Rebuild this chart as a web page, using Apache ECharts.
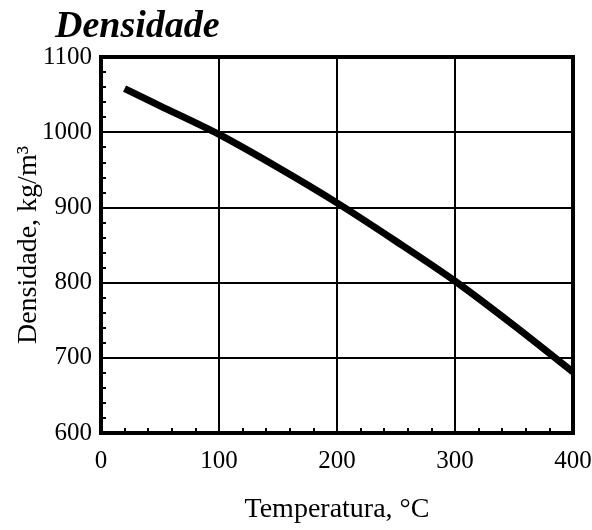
<!DOCTYPE html>
<html><head><meta charset="utf-8">
<script src="https://cdn.jsdelivr.net/npm/echarts@6/dist/echarts.min.js"></script>
<style>html,body{margin:0;padding:0;background:#fff}#c{width:592px;height:530px}</style>
</head><body><div id="c"></div>
<script>
const temperatures = [20, 50, 100, 150, 200, 250, 300, 350, 400];
const densities = [1058, 1035, 997, 953, 906, 855, 802, 743, 681];
const titleText = 'Densidade';
const xName = 'Temperatura, °C';
const yName = 'Densidade, kg/m³';

const font = 'Liberation Serif';
const chart = echarts.init(document.getElementById('c'));
chart.setOption({
  animation: false,
  title: { text: titleText, left: 50, top: 3,
    textStyle: { fontFamily: font, fontSize: 38, fontWeight: 'bold', fontStyle: 'italic', color: '#000' } },
  grid: { left: 101, right: 19, top: 57, bottom: 97, containLabel: false, outerBoundsMode: 'none',
    show: true, borderColor: '#000', borderWidth: 4, backgroundColor: 'transparent' },
  xAxis: {
    type: 'value', min: 0, max: 400, interval: 100,
    name: xName, nameLocation: 'middle', nameGap: 63,
    nameTextStyle: { fontFamily: font, fontSize: 28, color: '#000' },
    axisLine: { show: true, lineStyle: { color: '#000', width: 4 } },
    axisTick: { show: true, inside: true, length: 5, lineStyle: { color: '#000', width: 2 } },
    minorTick: { show: true, splitNumber: 5, length: 5, lineStyle: { color: '#000', width: 2 } },
    axisLabel: { fontFamily: font, fontSize: 25, color: '#000', margin: 16 },
    splitLine: { show: true, lineStyle: { color: '#000', width: 2 } }
  },
  yAxis: {
    type: 'value', min: 600, max: 1100, interval: 100,
    name: yName, nameLocation: 'middle', nameGap: 58, nameMoveOverlap: false,
    nameTextStyle: { fontFamily: font, fontSize: 28, color: '#000' },
    axisLine: { show: true, lineStyle: { color: '#000', width: 4 } },
    axisTick: { show: true, inside: true, length: 5, lineStyle: { color: '#000', width: 2 } },
    minorTick: { show: true, splitNumber: 5, length: 5, lineStyle: { color: '#000', width: 2 } },
    axisLabel: { fontFamily: font, fontSize: 25, color: '#000', margin: 9, formatter: v => String(v) },
    splitLine: { show: true, lineStyle: { color: '#000', width: 2 } }
  },
  series: [{
    type: 'line', data: temperatures.map((t, i) => [t, densities[i]]),
    smooth: 0.3, showSymbol: false, symbol: 'none',
    lineStyle: { color: '#000', width: 7 }
  }]
});
</script></body></html>
